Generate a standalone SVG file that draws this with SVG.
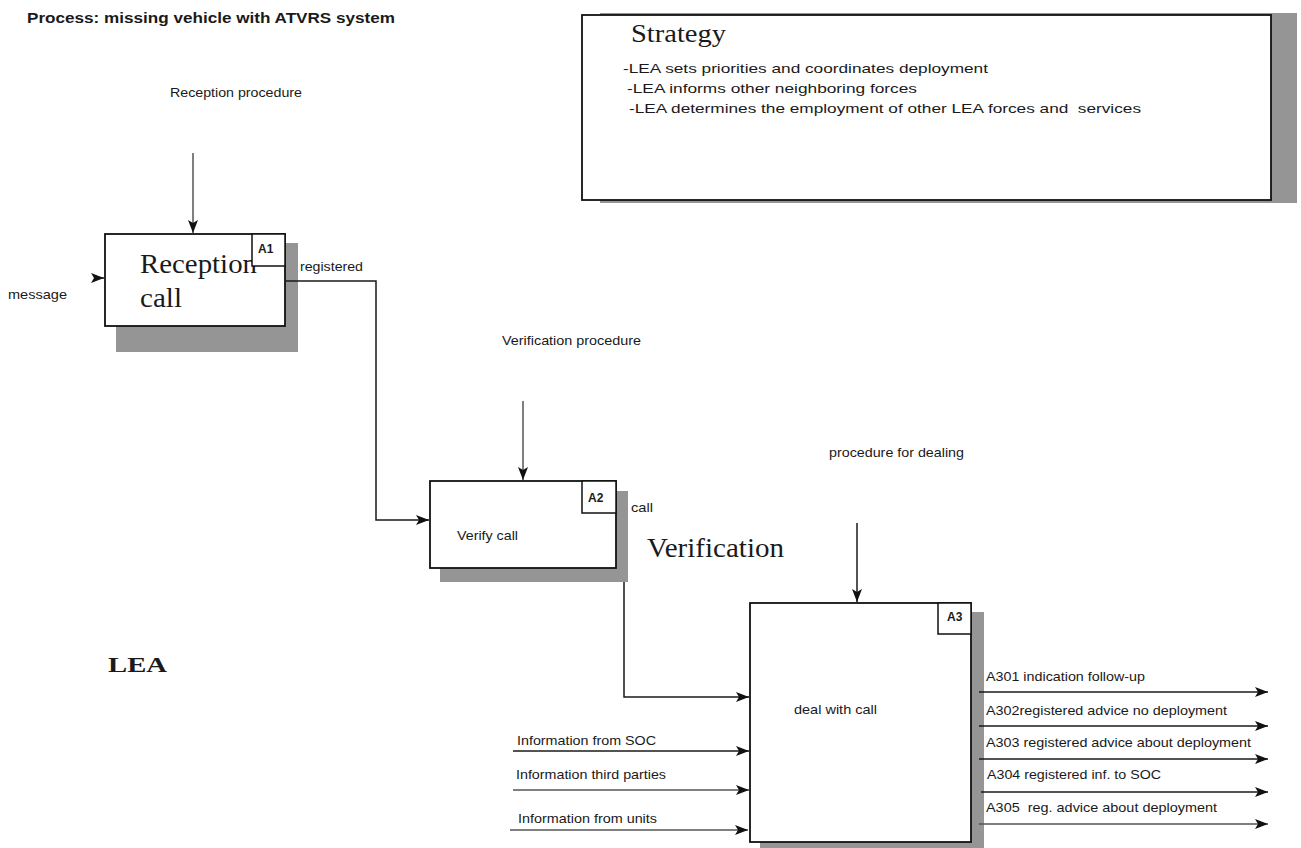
<svg xmlns="http://www.w3.org/2000/svg" width="1301" height="848" viewBox="0 0 1301 848">
<style>
.sans{font-family:"Liberation Sans",Arial,sans-serif;fill:#1a1a1a}
.s13{font-size:13px}
.serif{font-family:"Liberation Serif","Times New Roman",serif;fill:#1a1a1a}
.box{fill:#fff;stroke:#111;stroke-width:1.8}
.tag{fill:#fff;stroke:#111;stroke-width:1.5}
.shadow{fill:#959595}
.conn{fill:none;stroke:#1a1a1a;stroke-width:1.5}
.gray{stroke:#555}
.tagtxt{font-family:"Liberation Sans",Arial,sans-serif;font-size:12px;font-weight:bold;fill:#1a1a1a}
</style>
<defs>
<marker id="arr" markerUnits="userSpaceOnUse" markerWidth="15" markerHeight="11" refX="13" refY="5" orient="auto">
<path d="M0,0 L13,5 L0,10 L3,5 Z" fill="#111"/>
</marker>
</defs>
<rect width="1301" height="848" fill="#fff"/>

<text class="sans" x="27" y="23" font-size="14" font-weight="bold" textLength="368" lengthAdjust="spacingAndGlyphs">Process: missing vehicle with ATVRS system</text>
<text class="sans s13" x="170" y="97" textLength="132" lengthAdjust="spacingAndGlyphs">Reception procedure</text>
<text class="sans s13" x="502" y="345" textLength="139" lengthAdjust="spacingAndGlyphs">Verification procedure</text>
<text class="sans s13" x="829" y="457" textLength="135" lengthAdjust="spacingAndGlyphs">procedure for dealing</text>
<text class="serif" x="108" y="672" font-size="22" font-weight="bold" textLength="59" lengthAdjust="spacingAndGlyphs">LEA</text>
<text class="serif" x="647" y="557" font-size="27" textLength="137" lengthAdjust="spacingAndGlyphs">Verification</text>

<g id="strategy">
<rect class="shadow" x="600" y="13" width="697" height="190"/>
<rect class="box" x="582" y="15" width="689" height="185"/>
<text class="serif" x="631" y="42" font-size="26" textLength="95" lengthAdjust="spacingAndGlyphs">Strategy</text>
<text class="sans s13" x="623" y="73" textLength="365" lengthAdjust="spacingAndGlyphs">-LEA sets priorities and coordinates deployment</text>
<text class="sans s13" x="627" y="93" textLength="290" lengthAdjust="spacingAndGlyphs">-LEA informs other neighboring forces</text>
<text class="sans s13" x="629" y="113" textLength="512" lengthAdjust="spacingAndGlyphs" xml:space="preserve">-LEA determines the employment of other LEA forces and  services</text>
</g>

<g id="A1">
<rect class="shadow" x="116" y="243" width="182" height="109"/>
<rect class="box" x="105" y="234" width="180" height="92"/>
<text class="serif" x="140" y="273" font-size="27" textLength="117" lengthAdjust="spacingAndGlyphs">Reception</text>
<text class="serif" x="140" y="307" font-size="27" textLength="42" lengthAdjust="spacingAndGlyphs">call</text>
<rect class="tag" x="252" y="234" width="33" height="32"/>
<text class="tagtxt" x="258" y="253">A1</text>
</g>

<g id="A2">
<rect class="shadow" x="440" y="491" width="188" height="91"/>
<rect class="box" x="430" y="481" width="186" height="87"/>
<text class="sans s13" x="457" y="540" textLength="61" lengthAdjust="spacingAndGlyphs">Verify call</text>
<rect class="tag" x="582" y="481" width="34" height="32"/>
<text class="tagtxt" x="588" y="502">A2</text>
</g>

<g id="A3">
<rect class="shadow" x="760" y="612" width="224" height="236"/>
<rect class="box" x="750" y="603" width="221" height="239"/>
<text class="sans s13" x="794" y="714" textLength="83" lengthAdjust="spacingAndGlyphs">deal with call</text>
<rect class="tag" x="938" y="603" width="33" height="31"/>
<text class="tagtxt" x="947" y="621">A3</text>
</g>

<g id="connectors">
<path class="conn gray" d="M193,153 V233" marker-end="url(#arr)"/>
<path class="conn gray" d="M523,401 V480" marker-end="url(#arr)"/>
<path class="conn" d="M857,523 V602" marker-end="url(#arr)"/>
<path class="conn" d="M98,278 H104" marker-end="url(#arr)"/>
<path class="conn" d="M285,281 H376 V520 H429" marker-end="url(#arr)"/>
<path class="conn" d="M624,582 V697 H749" marker-end="url(#arr)"/>
<path class="conn" d="M513,751 H749" marker-end="url(#arr)"/>
<path class="conn gray" d="M513,790 H749" marker-end="url(#arr)"/>
<path class="conn gray" d="M510,830 H748" marker-end="url(#arr)"/>
<path class="conn" d="M979,692 H1268" marker-end="url(#arr)"/>
<path class="conn" d="M979,726 H1268" marker-end="url(#arr)"/>
<path class="conn" d="M979,759 H1268" marker-end="url(#arr)"/>
<path class="conn" d="M981,792 H1268" marker-end="url(#arr)"/>
<path class="conn gray" d="M979,824 H1268" marker-end="url(#arr)"/>
</g>

<g id="labels">
<text class="sans s13" x="8" y="299" textLength="59" lengthAdjust="spacingAndGlyphs">message</text>
<text class="sans s13" x="300" y="271" textLength="63" lengthAdjust="spacingAndGlyphs">registered</text>
<text class="sans s13" x="631" y="512" textLength="22" lengthAdjust="spacingAndGlyphs">call</text>
<text class="sans s13" x="517" y="745" textLength="139" lengthAdjust="spacingAndGlyphs">Information from SOC</text>
<text class="sans s13" x="516" y="779" textLength="150" lengthAdjust="spacingAndGlyphs">Information third parties</text>
<text class="sans s13" x="518" y="823" textLength="139" lengthAdjust="spacingAndGlyphs">Information from units</text>
<text class="sans s13" x="986" y="681" textLength="159" lengthAdjust="spacingAndGlyphs">A301 indication follow-up</text>
<text class="sans s13" x="986" y="715" textLength="241" lengthAdjust="spacingAndGlyphs">A302registered advice no deployment</text>
<text class="sans s13" x="986" y="747" textLength="265" lengthAdjust="spacingAndGlyphs">A303 registered advice about deployment</text>
<text class="sans s13" x="987" y="779" textLength="174" lengthAdjust="spacingAndGlyphs">A304 registered inf. to SOC</text>
<text class="sans s13" x="986" y="812" textLength="231" lengthAdjust="spacingAndGlyphs" xml:space="preserve">A305  reg. advice about deployment</text>
</g>
</svg>
